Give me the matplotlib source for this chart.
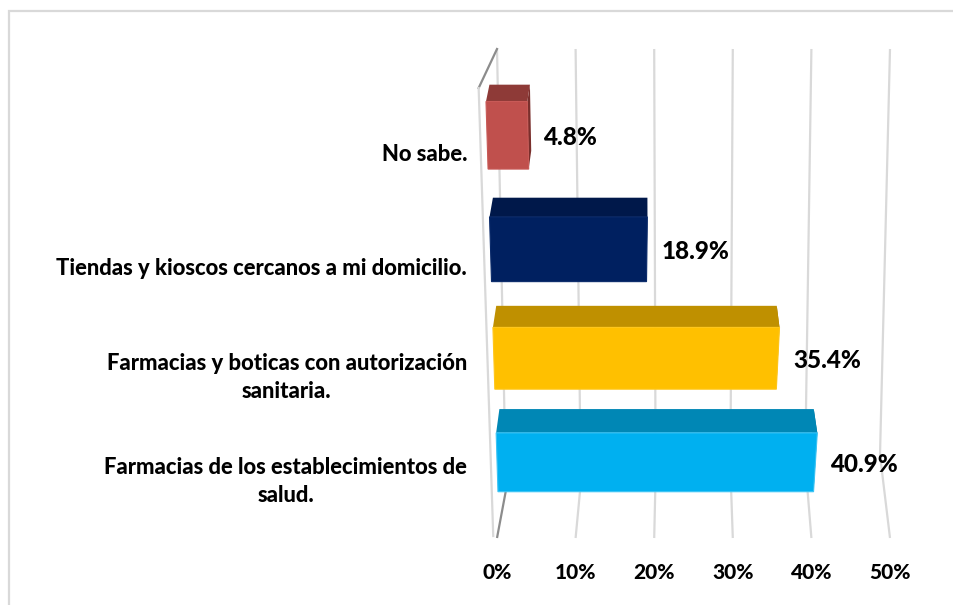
import matplotlib
matplotlib.use("Agg")
import matplotlib.pyplot as plt
from matplotlib.patches import Polygon

plt.rcParams["font.family"] = ["Lato", "DejaVu Sans"]
plt.rcParams["font.weight"] = "bold"

# ---- data -----------------------------------------------------------------
categories = [
    "No sabe.",
    "Tiendas y kioscos cercanos a mi domicilio.",
    "Farmacias y boticas con autorización\nsanitaria.",
    "Farmacias de los establecimientos de\nsalud.",
]
values = [4.8, 18.9, 35.4, 40.9]
value_labels = ["4.8%", "18.9%", "35.4%", "40.9%"]
ticks = [0, 10, 20, 30, 40, 50]
tick_labels = ["0%", "10%", "20%", "30%", "40%", "50%"]

front_colors = ["#C0504D", "#002060", "#FFC000", "#00B0F0"]
top_colors = ["#8E3A37", "#00184A", "#BF9000", "#0087B5"]
side_colors = ["#7A2F2C", "#00123A", "#A07800", "#00739A"]
edge_colors = ["#C85A57", "#0A2A6A", "#FFC61A", "#3CC4F5"]

TEXT_WEIGHT = 900

# ---- canvas ---------------------------------------------------------------
W, H = 954, 605
fig = plt.figure(figsize=(W / 100, H / 100), dpi=100)

# frame of the chart area (layout units = pixels)
frame = fig.add_axes([0, 0, 1, 1], zorder=0)
frame.set_xlim(0, W)
frame.set_ylim(H, 0)
frame.axis("off")
frame.plot([9, 9, W + 5], [H + 5, 11, 11], color="#D9D9D9", lw=1.6,
           solid_joinstyle="miter")

# plot axes: x in percent along the floor's front edge, y in layout units
AX_BOTTOM = 553
ax = fig.add_axes([0, 1 - AX_BOTTOM / H, 1, AX_BOTTOM / H], zorder=1)
ax.patch.set_alpha(0)
PX0, PXS = 497.0, 7.86
ax.set_xlim(-PX0 / PXS, (W - PX0) / PXS)
ax.set_ylim(AX_BOTTOM, 0)


def pct(px):
    return (px - PX0) / PXS


# perspective of the bar plane: value lines converge far below the chart
def front_px(v, y):
    return 486 + 12 * (y - 102) / 391 + v * 8.54 * (3831 - y) / 3696


# depth of the bars recedes toward a vanishing point above the chart
VPX, VPY, DEPTH = 650.0, -700.0, 0.979


def back(px, y):
    return VPX + (px - VPX) * DEPTH, VPY + (y - VPY) * DEPTH


def row_y(u):
    return 135.5 + 116.5 * u - 2.5 * u * u


# ---- walls and gridlines -------------------------------------------------
WALL_TOP, FLOOR_FRONT = 49, 538
grid_c = "#D9D9D9"
edge_c = "#8C8C8C"
for t in ticks:
    kx = pct(506 + 7.48 * t)
    ky = 490 - 0.7 * t
    ax.plot([t, kx], [WALL_TOP, ky], color=grid_c, lw=1.6, zorder=1,
            solid_capstyle="butt")
    ax.plot([kx, t], [ky, FLOOR_FRONT], color=edge_c if t == 0 else grid_c,
            lw=1.6, zorder=1, solid_capstyle="butt")

# side wall at 0%
wall_front_top = (front_px(-0.8, 88), 88)
wall_front_bot = (front_px(-0.8, 536), 536)
ax.plot([0, pct(wall_front_top[0])], [WALL_TOP, wall_front_top[1]],
        color=edge_c, lw=1.6, zorder=1)
ax.plot([pct(wall_front_top[0]), pct(wall_front_bot[0])],
        [wall_front_top[1], wall_front_bot[1]], color=grid_c, lw=1.6, zorder=1)

# ---- bars ------------------------------------------------------------------
HALF = 0.29
for i, v in enumerate(values):
    yt, yb = row_y(i - HALF), row_y(i + HALF)
    ftl = (front_px(0, yt), yt)
    ftr = (front_px(v, yt), yt)
    fbr = (front_px(v, yb), yb)
    fbl = (front_px(0, yb), yb)
    btl = back(*ftl)
    btr = back(*ftr)
    bbr = back(*fbr)

    def poly(pts, fc, z, ec="none", lw=0):
        ax.add_patch(Polygon([(pct(x), y) for x, y in pts], closed=True,
                             facecolor=fc, edgecolor=ec, lw=lw, zorder=z))

    poly([ftr, fbr, bbr, btr], side_colors[i], 3)
    poly([ftl, ftr, btr, btl], top_colors[i], 4)
    poly([ftl, ftr, fbr, fbl], front_colors[i], 5, edge_colors[i], 0.8)

    yc = row_y(i)
    ax.text(pct(front_px(v, yc) + 15), yc + 2, value_labels[i],
            ha="left", va="center", fontsize=17.5, fontweight=TEXT_WEIGHT,
            color="#000000", zorder=6)
    ax.text(pct(467), yc + 19, categories[i], ha="right", va="center",
            multialignment="center", fontsize=15.8, fontweight=TEXT_WEIGHT,
            linespacing=1.42, color="#000000", zorder=6)

# ---- axis ------------------------------------------------------------------
ax.set_xticks(ticks, tick_labels)
ax.set_yticks([])
ax.tick_params(axis="x", length=0, pad=7, labelsize=15)
for lab in ax.get_xticklabels():
    lab.set_fontweight(TEXT_WEIGHT)
for s in ax.spines.values():
    s.set_visible(False)

fig.savefig("out.png", dpi=100)
